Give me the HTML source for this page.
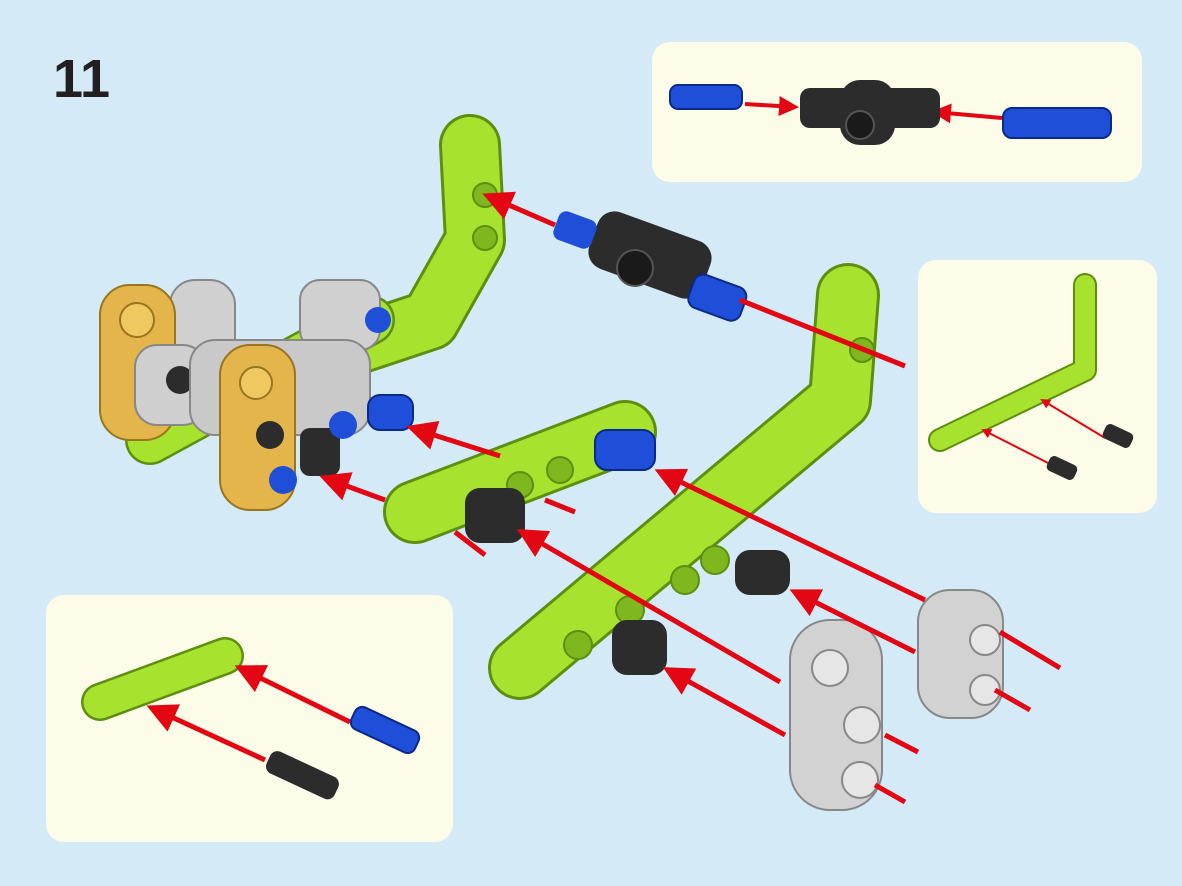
<!DOCTYPE html>
<html><head><meta charset="utf-8"><style>
html,body{margin:0;padding:0;background:#d4ebf7;}
svg{display:block}
</style></head><body>
<svg width="1182" height="886" viewBox="0 0 1182 886" xmlns="http://www.w3.org/2000/svg">
<defs>
<marker id="ah" viewBox="0 0 10 10" refX="8" refY="5" markerWidth="5" markerHeight="5" orient="auto"><path d="M0,0L10,5L0,10z" fill="#e30613"/></marker>
<marker id="ah2" viewBox="0 0 10 10" refX="8" refY="5" markerWidth="6" markerHeight="6" orient="auto"><path d="M0,0L10,5L0,10z" fill="#e30613"/></marker>
</defs>
<rect width="1182" height="886" fill="#d4ebf7"/>
<text x="53" y="97" font-family="Liberation Sans, sans-serif" font-weight="bold" font-size="54" fill="#231f20">11</text>

<rect x="652" y="42" width="490" height="140" rx="18" fill="#fdfce8"/>
<rect x="918" y="260" width="239" height="253" rx="18" fill="#fdfce8"/>
<rect x="46" y="595" width="407" height="247" rx="18" fill="#fdfce8"/>

<line x1="745" y1="104" x2="795" y2="107" stroke="#e30613" stroke-width="4" marker-end="url(#ah)"/>
<line x1="1002" y1="118" x2="935" y2="112" stroke="#e30613" stroke-width="4" marker-end="url(#ah)"/>
<rect x="670" y="85" width="72" height="24" rx="8" fill="#1f4fd8" stroke="#0a2a88" stroke-width="2"/>
<rect x="1003" y="108" width="108" height="30" rx="9" fill="#1f4fd8" stroke="#0a2a88" stroke-width="2"/>
<rect x="800" y="88" width="140" height="40" rx="10" fill="#2c2c2c"/>
<rect x="840" y="80" width="55" height="65" rx="20" fill="#2c2c2c"/>
<circle cx="860" cy="125" r="14" fill="#1a1a1a" stroke="#555" stroke-width="2"/>

<polyline points="470,145 475,240 430,320 340,350" fill="none" stroke="#5e8e10" stroke-width="62" stroke-linecap="round" stroke-linejoin="round"/>
<polyline points="470,145 475,240 430,320 340,350" fill="none" stroke="#a6e22e" stroke-width="56" stroke-linecap="round" stroke-linejoin="round"/>
<circle cx="485" cy="195" r="12" fill="#7fb81e" stroke="#5e8e10" stroke-width="2"/>
<circle cx="485" cy="238" r="12" fill="#7fb81e" stroke="#5e8e10" stroke-width="2"/>

<polyline points="150,440 370,320" fill="none" stroke="#5e8e10" stroke-width="50" stroke-linecap="round"/>
<polyline points="150,440 370,320" fill="none" stroke="#a6e22e" stroke-width="45" stroke-linecap="round"/>
<rect x="170" y="280" width="65" height="90" rx="25" fill="#d0d0d0" stroke="#888" stroke-width="2"/>
<rect x="300" y="280" width="80" height="70" rx="20" fill="#d0d0d0" stroke="#888" stroke-width="2"/>
<rect x="100" y="285" width="75" height="155" rx="30" fill="#e3b54a" stroke="#9a7520" stroke-width="2"/>
<circle cx="137" cy="320" r="17" fill="#f0c860" stroke="#9a7520" stroke-width="2"/>
<rect x="135" y="345" width="70" height="80" rx="22" fill="#cfcfcf" stroke="#888" stroke-width="2"/>
<circle cx="180" cy="380" r="14" fill="#2c2c2c"/>
<rect x="190" y="340" width="180" height="95" rx="25" fill="#c9c9c9" stroke="#888" stroke-width="2"/>
<rect x="220" y="345" width="75" height="165" rx="30" fill="#e3b54a" stroke="#9a7520" stroke-width="2"/>
<circle cx="256" cy="383" r="16" fill="#f0c860" stroke="#9a7520" stroke-width="2"/>
<circle cx="270" cy="435" r="14" fill="#2c2c2c"/>
<circle cx="283" cy="480" r="14" fill="#1f4fd8"/>
<circle cx="378" cy="320" r="13" fill="#1f4fd8"/>
<rect x="300" y="428" width="40" height="48" rx="10" fill="#2c2c2c"/>
<rect x="368" y="395" width="45" height="35" rx="12" fill="#1f4fd8" stroke="#0a2a88" stroke-width="2"/>
<circle cx="343" cy="425" r="14" fill="#1f4fd8"/>

<polyline points="848,295 840,400 520,668" fill="none" stroke="#5e8e10" stroke-width="64" stroke-linecap="round" stroke-linejoin="round"/>
<polyline points="848,295 840,400 520,668" fill="none" stroke="#a6e22e" stroke-width="58" stroke-linecap="round" stroke-linejoin="round"/>
<circle cx="862" cy="350" r="12" fill="#7fb81e" stroke="#5e8e10" stroke-width="2"/>
<circle cx="578" cy="645" r="14" fill="#7fb81e" stroke="#5e8e10" stroke-width="2"/>
<circle cx="630" cy="610" r="14" fill="#7fb81e" stroke="#5e8e10" stroke-width="2"/>
<circle cx="685" cy="580" r="14" fill="#7fb81e" stroke="#5e8e10" stroke-width="2"/>
<circle cx="715" cy="560" r="14" fill="#7fb81e" stroke="#5e8e10" stroke-width="2"/>
<rect x="612" y="620" width="55" height="55" rx="15" fill="#2c2c2c"/>
<rect x="735" y="550" width="55" height="45" rx="15" fill="#2c2c2c"/>

<line x1="415" y1="512" x2="625" y2="432" stroke="#5e8e10" stroke-width="64" stroke-linecap="round"/>
<line x1="415" y1="512" x2="625" y2="432" stroke="#a6e22e" stroke-width="58" stroke-linecap="round"/>
<circle cx="520" cy="485" r="13" fill="#7fb81e" stroke="#5e8e10" stroke-width="2"/>
<circle cx="560" cy="470" r="13" fill="#7fb81e" stroke="#5e8e10" stroke-width="2"/>
<rect x="465" y="488" width="60" height="55" rx="15" fill="#2c2c2c"/>
<rect x="595" y="430" width="60" height="40" rx="12" fill="#1f4fd8" stroke="#0a2a88" stroke-width="2"/>

<rect x="590" y="225" width="120" height="60" rx="18" fill="#2c2c2c" transform="rotate(20 650 255)"/>
<circle cx="635" cy="268" r="18" fill="#1a1a1a" stroke="#555" stroke-width="2"/>
<rect x="555" y="215" width="40" height="30" rx="8" fill="#1f4fd8" transform="rotate(20 575 230)"/>
<rect x="690" y="280" width="55" height="35" rx="10" fill="#1f4fd8" stroke="#0a2a88" stroke-width="2" transform="rotate(20 717 297)"/>

<rect x="918" y="590" width="85" height="128" rx="32" fill="#d2d2d2" stroke="#888" stroke-width="2"/>
<circle cx="985" cy="640" r="15" fill="#e6e6e6" stroke="#888" stroke-width="2"/>
<circle cx="985" cy="690" r="15" fill="#e6e6e6" stroke="#888" stroke-width="2"/>
<rect x="790" y="620" width="92" height="190" rx="40" fill="#d2d2d2" stroke="#888" stroke-width="2"/>
<circle cx="830" cy="668" r="18" fill="#e6e6e6" stroke="#888" stroke-width="2"/>
<circle cx="862" cy="725" r="18" fill="#e6e6e6" stroke="#888" stroke-width="2"/>
<circle cx="860" cy="780" r="18" fill="#e6e6e6" stroke="#888" stroke-width="2"/>

<g stroke="#e30613" stroke-width="5" fill="none">
<line x1="555" y1="225" x2="488" y2="196" marker-end="url(#ah2)"/>
<line x1="740" y1="300" x2="905" y2="366"/>
<line x1="500" y1="456" x2="412" y2="428" marker-end="url(#ah2)"/>
<line x1="385" y1="500" x2="325" y2="478" marker-end="url(#ah2)"/>
<line x1="575" y1="512" x2="545" y2="500"/>
<line x1="455" y1="532" x2="485" y2="555"/>
<line x1="925" y1="600" x2="660" y2="472" marker-end="url(#ah2)"/>
<line x1="780" y1="682" x2="522" y2="532" marker-end="url(#ah2)"/>
<line x1="915" y1="652" x2="795" y2="592" marker-end="url(#ah2)"/>
<line x1="785" y1="735" x2="668" y2="670" marker-end="url(#ah2)"/>
<line x1="1060" y1="668" x2="1000" y2="632"/>
<line x1="1030" y1="710" x2="995" y2="690"/>
<line x1="918" y1="752" x2="885" y2="735"/>
<line x1="905" y1="802" x2="875" y2="785"/>
</g>

<polyline points="1085,285 1085,370 940,440" fill="none" stroke="#5e8e10" stroke-width="24" stroke-linecap="round" stroke-linejoin="round"/>
<polyline points="1085,285 1085,370 940,440" fill="none" stroke="#a6e22e" stroke-width="20" stroke-linecap="round" stroke-linejoin="round"/>
<line x1="1105" y1="438" x2="1042" y2="400" stroke="#e30613" stroke-width="2" marker-end="url(#ah)"/>
<line x1="1050" y1="464" x2="983" y2="430" stroke="#e30613" stroke-width="2" marker-end="url(#ah)"/>
<rect x="1103" y="428" width="30" height="16" rx="5" fill="#2c2c2c" transform="rotate(25 1118 436)"/>
<rect x="1047" y="460" width="30" height="16" rx="5" fill="#2c2c2c" transform="rotate(25 1062 468)"/>

<line x1="100" y1="702" x2="225" y2="656" stroke="#5e8e10" stroke-width="38" stroke-linecap="round"/>
<line x1="100" y1="702" x2="225" y2="656" stroke="#a6e22e" stroke-width="33" stroke-linecap="round"/>
<g stroke="#e30613" stroke-width="5">
<line x1="350" y1="722" x2="240" y2="668" marker-end="url(#ah2)"/>
<line x1="265" y1="760" x2="152" y2="708" marker-end="url(#ah2)"/>
</g>
<rect x="350" y="718" width="70" height="24" rx="8" fill="#1f4fd8" stroke="#0a2a88" stroke-width="2" transform="rotate(25 385 730)"/>
<rect x="265" y="763" width="75" height="24" rx="8" fill="#2c2c2c" transform="rotate(25 302 775)"/>
</svg>
</body></html>
